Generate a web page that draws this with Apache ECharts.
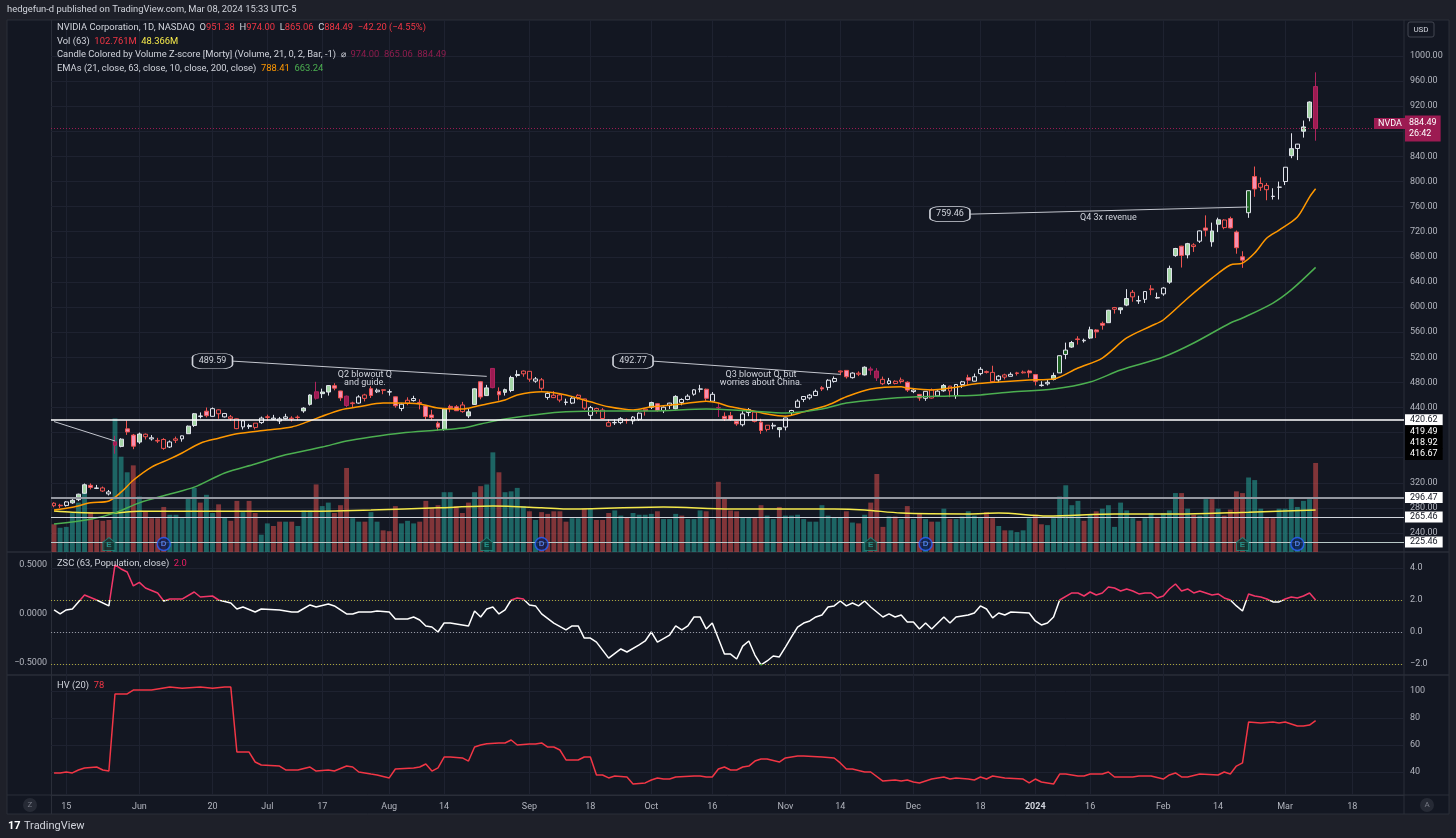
<!DOCTYPE html>
<html lang="en">
<head>
  <meta charset="UTF-8">
  <title>NVDA 1D</title>
  <style>
    html, body { margin: 0; padding: 0; background: #131722; }
    #chart { width: 1456px; height: 838px; }
  </style>
</head>
<body>
  <div id="chart"></div>
  <script src="https://cdn.jsdelivr.net/npm/echarts@6/dist/echarts.min.js"></script>
  <script>
    // trading days shown on the chart (last 14 of March are empty future slots)
    const tradingDays = [
      ['2023-05', [11,12,15,16,17,18,19,22,23,24,25,26,30,31]],
      ['2023-06', [1,2,5,6,7,8,9,12,13,14,15,16,20,21,22,23,26,27,28,29,30]],
      ['2023-07', [3,5,6,7,10,11,12,13,14,17,18,19,20,21,24,25,26,27,28,31]],
      ['2023-08', [1,2,3,4,7,8,9,10,11,14,15,16,17,18,21,22,23,24,25,28,29,30,31]],
      ['2023-09', [1,5,6,7,8,11,12,13,14,15,18,19,20,21,22,25,26,27,28,29]],
      ['2023-10', [2,3,4,5,6,9,10,11,12,13,16,17,18,19,20,23,24,25,26,27,30,31]],
      ['2023-11', [1,2,3,6,7,8,9,10,13,14,15,16,17,20,21,22,24,27,28,29,30]],
      ['2023-12', [1,4,5,6,7,8,11,12,13,14,15,18,19,20,21,22,26,27,28,29]],
      ['2024-01', [2,3,4,5,8,9,10,11,12,16,17,18,19,22,23,24,25,26,29,30,31]],
      ['2024-02', [1,2,5,6,7,8,9,12,13,14,15,16,20,21,22,23,26,27,28,29]],
      ['2024-03', [1,4,5,6,7,8,11,12,13,14,15,18,19,20,21,22,25,26,27,28]]
    ];

    // daily candles [open, high, low, close]
    const candles = [
      // May
      [287.5,289.0,280.9,283.4],[284.2,286.5,279.8,283.4],[283.9,290.7,282.1,289.5],[288.0,294.0,286.4,292.1],
      [293.1,302.6,290.8,301.8],[303.3,318.8,302.5,316.8],[316.0,319.0,309.4,312.6],[311.0,316.6,310.0,311.8],
      [311.8,314.0,305.5,306.9],[302.3,308.5,299.8,305.4],[385.3,394.8,366.3,379.8],[378.0,391.0,376.5,389.5],
      [405.9,419.4,396.3,401.1],[396.0,397.8,373.5,378.3],
      // Jun
      [384.9,400.0,382.0,397.7],[397.4,398.5,389.0,393.3],[389.9,396.0,387.2,391.7],[387.5,391.6,383.4,386.5],
      [389.0,391.1,372.6,374.8],[377.0,387.4,375.6,385.1],[390.0,393.6,383.3,387.7],[390.0,395.2,385.5,394.8],
      [398.2,411.2,397.8,410.2],[411.2,431.2,409.0,430.0],[425.5,432.1,422.5,426.5],[434.1,439.9,424.1,426.9],
      [425.9,440.0,425.4,438.1],[436.2,437.0,422.0,430.0],[425.0,431.3,424.0,430.3],[425.0,428.0,418.5,422.1],
      [422.0,422.5,405.4,406.3],[409.0,419.0,405.0,418.8],[409.5,414.0,405.8,411.2],[415.0,415.1,405.0,408.2],
      [415.9,425.5,413.8,423.0],
      // Jul
      [425.2,428.5,419.0,424.1],[421.3,428.2,420.1,423.0],[418.4,424.9,413.6,421.8],[422.2,429.9,420.8,425.0],
      [423.0,426.0,417.5,421.8],[424.6,427.3,419.6,424.0],[434.5,440.5,431.5,439.0],[445.0,460.9,443.0,459.8],
      [465.0,480.9,452.4,454.7],[462.0,470.0,455.1,464.6],[464.6,475.8,458.9,474.9],[474.7,478.6,467.3,470.8],
      [466.3,466.5,450.5,455.2],[458.0,459.0,440.4,443.1],[447.3,449.1,439.9,446.1],[447.0,459.5,446.0,456.8],
      [460.0,461.8,449.7,454.5],[470.0,473.9,455.1,459.0],[465.0,470.2,463.0,467.5],[468.3,469.0,461.1,467.3],
      // Aug
      [464.6,468.9,458.9,465.1],[457.0,457.5,439.7,442.7],[438.4,447.2,434.1,445.2],[451.5,456.2,443.6,446.8],
      [451.0,458.6,449.4,454.2],[448.0,453.0,437.0,446.6],[442.4,443.3,420.7,425.5],[428.0,436.3,419.8,423.9],
      [415.0,417.7,403.1,408.6],[404.9,437.9,403.1,437.5],[441.7,444.4,432.3,439.4],[441.0,443.8,434.7,434.8],
      [444.0,448.9,431.6,433.4],[426.5,437.5,423.0,433.0],[444.9,470.6,444.2,469.7],[481.0,481.9,453.0,456.7],
      [458.9,476.0,458.5,471.2],[502.2,502.7,470.5,471.6],[465.5,472.0,451.1,460.2],[464.1,470.0,459.0,468.4],
      [467.0,490.5,464.3,487.8],[491.0,499.3,488.0,492.6],[498.0,499.0,489.0,493.6],
      // Sep
      [497.6,498.0,481.0,485.1],[482.0,488.5,479.3,485.5],[484.0,487.0,467.1,470.6],[456.0,465.0,452.5,462.4],
      [459.5,466.0,455.0,455.7],[460.0,461.8,448.3,451.8],[448.0,454.0,443.6,448.7],[447.0,456.4,445.4,454.9],
      [459.5,461.0,452.3,455.8],[453.6,453.9,436.0,439.0],[427.5,442.4,420.0,439.7],[438.3,439.7,430.0,435.2],
      [436.0,439.0,422.2,422.4],[415.8,421.0,409.8,410.2],[415.6,421.0,412.1,416.1],[415.9,424.6,413.4,422.2],
      [420.0,422.5,414.2,419.1],[418.6,426.3,413.2,424.7],[421.2,432.0,418.6,430.9],[437.1,437.2,427.0,435.0],
      // Oct
      [440.3,449.2,437.5,447.8],[446.0,446.6,433.3,435.2],[435.0,441.7,431.1,440.4],[443.0,447.5,437.6,446.9],
      [438.0,459.5,437.0,457.6],[448.0,454.6,443.5,452.7],[452.7,461.1,451.5,458.0],[461.1,469.0,458.8,468.1],
      [469.2,476.1,464.0,469.5],[469.1,470.0,450.6,454.6],[450.0,464.6,449.0,461.0],[440.0,447.5,424.8,439.4],
      [425.9,432.2,418.5,422.0],[427.0,432.9,418.8,421.0],[418.0,419.2,410.8,413.9],[412.5,434.1,409.8,429.8],
      [432.0,439.0,426.1,436.6],[432.6,433.8,416.1,417.8],[416.6,422.0,397.9,403.3],[411.7,412.0,401.8,405.0],
      [410.4,415.7,405.3,411.6],[404.7,408.0,392.3,407.8],
      // Nov
      [408.8,423.5,403.5,423.3],[431.8,436.2,428.1,435.1],[440.2,453.0,439.8,450.1],[452.8,457.9,448.6,457.5],
      [455.2,461.5,452.5,459.6],[459.0,468.6,458.2,465.7],[471.4,474.0,466.2,469.5],[472.0,485.0,467.4,483.4],
      [481.5,489.5,479.5,486.2],[498.0,498.8,491.5,496.6],[499.1,499.3,486.0,488.9],[487.5,496.0,486.1,494.8],
      [494.6,497.5,490.0,493.0],[491.9,505.5,491.0,504.1],[501.4,505.0,491.9,499.4],[498.0,502.7,482.2,487.2],
      [484.8,489.2,475.7,477.8],[478.1,487.1,476.4,482.4],[481.8,483.3,476.8,478.2],[483.8,487.7,478.3,481.4],
      [480.2,481.6,464.7,467.7],
      // Dec
      [465.3,469.7,462.9,467.7],[460.8,461.5,450.6,455.1],[454.6,466.0,450.6,465.7],[468.0,470.2,454.3,455.0],
      [458.4,467.8,456.6,466.0],[466.6,477.4,465.0,475.1],[474.0,474.5,456.4,466.3],[458.8,477.2,453.8,476.6],
      [476.5,482.4,471.2,480.9],[487.5,492.2,475.4,483.5],[481.9,494.0,481.6,488.9],[494.0,504.3,491.2,500.8],
      [497.0,498.9,494.1,496.0],[495.9,506.5,480.0,481.1],[484.0,491.5,480.1,489.9],[491.9,493.8,484.7,488.3],
      [489.7,496.0,489.6,492.8],[495.1,496.8,490.9,494.2],[496.4,498.8,494.1,495.2],[498.1,500.0,487.5,495.2],
      // Jan
      [492.4,492.9,475.1,481.7],[474.9,481.8,473.2,475.7],[477.7,485.0,475.1,480.0],[484.6,495.5,483.1,491.0],
      [495.1,522.8,494.8,522.5],[524.5,543.3,516.9,531.4],[536.2,546.0,534.9,543.5],[549.2,553.5,540.2,548.2],
      [546.2,549.7,543.3,547.1],[550.6,568.7,549.0,563.8],[563.5,564.8,550.6,560.5],[574.0,576.8,564.0,571.1],
      [575.1,595.5,575.0,594.9],[599.2,600.2,589.6,596.5],[595.7,599.1,589.1,598.7],[603.1,628.5,601.4,613.6],
      [623.5,627.2,608.5,616.2],[609.6,618.0,605.0,610.3],[612.3,624.9,606.5,624.7],[629.0,634.9,619.0,627.7],
      [614.4,623.0,613.3,615.3],
      // Feb
      [621.0,631.9,618.0,630.3],[639.7,666.0,637.0,661.6],[682.0,694.3,680.1,693.3],[697.0,697.6,663.0,682.2],
      [683.2,702.3,677.6,701.0],[699.0,701.7,687.9,696.4],[705.0,721.9,702.1,721.3],[726.0,746.1,712.5,722.5],
      [704.0,734.5,696.2,721.3],[732.0,742.4,719.4,739.0],[738.7,739.8,724.0,726.6],[741.0,744.0,725.0,726.1],
      [719.5,721.9,685.0,694.5],[680.1,688.9,662.5,674.7],[750.3,785.8,742.2,785.4],[807.9,823.9,775.7,788.2],
      [797.0,806.5,785.0,790.9],[793.8,797.8,770.2,787.0],[776.2,789.3,771.3,776.6],[790.9,799.9,771.4,791.1],
      // Mar
      [800.0,823.0,794.4,822.8],[841.3,876.9,837.2,852.4],[852.7,860.0,834.2,859.6],[880.2,897.2,870.0,887.0],
      [901.6,927.7,896.0,926.7],[951.38,974.0,865.06,884.49]
    ];

    // daily volume, millions
    const volumes = [
      32,28,29,45,57,69,46,37,36,37, 154,110,92,100,64,47,39,39,52,43,
      43,39,62,74,57,66,45,55,40,36, 59,46,59,45,20,33,30,35,35,35,
      30,48,48,78,53,57,45,54,97,39, 35,35,46,35,25,24,53,33,36,33,
      35,59,51,54,69,69,53,45,57,69, 76,78,115,92,69,70,74,53,47,37,
      46,44,47,47,35,39,39,50,50,37, 37,45,48,42,40,45,43,43,44,47,
      38,38,44,42,38,38,48,47,38,81, 62,48,47,40,40,40,54,42,38,52,
      42,42,43,38,35,35,54,42,40,40, 47,34,33,43,57,90,29,41,41,38,
      53,38,44,38,35,35,50,38,38,41, 47,42,39,46,39,30,25,25,23,25,
      39,43,32,31,39,64,77,54,59,36, 43,47,50,54,29,57,48,39,36,39,
      45,39,45,48,68,68,50,43,42,61, 61,50,42,49,70,68,86,83,50,39,
      39,50,50,62,52,59,61,102.761
    ];

    // indicator lines: [bar index, value]
    const volMA = [[0,47.3],[3,46],[9,45],[14,47],[25,47],[41,47],[52,48.5],[63,51],[72,53],[80,51],[84,49.6],
      [100,52],[111,49.6],[128,49.6],[133,48.5],[139,45],[150,44],[155,45],[163,41.6],[174,44],[185,44],[196,46],[207,48.366]];

    const ema21 = [[0,276.6],[3,281],[6,288],[9,291],[11,305],[13,324],[16,345],[19,358],[21,367.5],[24,383],[27,391],
      [30,398],[35,404],[39,409],[41,415],[44,426],[47,436],[50,441],[54,447],[56,447],[60,445.5],[63,439],[67,437.5],
      [69,441],[71,445.5],[74,452],[76,460],[80,465],[84,460],[88,449],[91,441],[95,436],[98,441],[103,445.5],[107,450],
      [109,447],[111,441],[114,436],[117,429.5],[120,426],[123,433],[127,444],[130,457],[134,469.4],[139,473],[140,471],
      [144,468],[147,471],[151,477.4],[155,480.6],[160,483.7],[164,485.4],[168,502.9],[172,518.8],[176,550.7],[180,569.8],
      [182,579.4],[186,614],[190,646],[193,667],[195,670],[197,686],[199,710],[201,722.7],[204,743.5],[206,775.3],[207,788.41]];

    const ema63 = [[0,254.3],[6,262],[10,272],[14,288],[19,302],[23,313],[28,335.6],[33,350],[38,364.5],[44,377],
      [48,386.6],[52,393],[57,399.3],[63,404],[67,407.3],[70,413.6],[74,421.6],[80,429.6],[84,433],[90,434.4],[98,434.4],
      [107,437.5],[114,434.4],[120,431],[126,437.5],[130,447],[136,453.5],[141,456.7],[147,458.3],[152,460],[157,464.6],
      [164,469.4],[170,480.6],[175,499.7],[182,520.4],[187,542.7],[193,574.6],[195,582.5],[200,606.4],[203,627.3],[207,663.24]];

    const zsc = [[0,1.38],[1,1.13],[2,1.38],[3,1.44],[5,2.31],[7,2.0],[9,1.63],[10,4.19],[11,3.94],[12,3.75],[13,2.88],
      [14,3.1],[15,2.75],[17,2.44],[18,1.94],[19,2.06],[21,2.06],[23,2.5],[24,2.19],[26,2.25],[27,2.0],[29,1.81],[30,1.44],
      [31,1.56],[33,1.25],[34,1.44],[37,1.38],[39,1.25],[40,1.25],[42,1.69],[43,1.56],[45,1.75],[46,1.63],[48,1.13],[49,1.13],
      [50,1.25],[52,1.25],[53,1.31],[55,1.25],[56,0.81],[58,0.81],[59,0.94],[60,0.75],[61,0.38],[62,0.31],[63,0.0],[64,0.56],
      [65,0.56],[67,0.44],[68,0.38],[69,1.31],[70,0.94],[71,1.44],[72,1.56],[73,1.13],[74,1.38],[75,2.0],[76,2.13],[77,2.06],
      [78,1.69],[79,1.63],[80,1.13],[82,0.56],[84,0.13],[85,0.38],[86,0.38],[87,-0.38],[88,-0.38],[89,-0.63],[91,-1.63],
      [93,-1.06],[94,-1.25],[96,-0.81],[97,-0.56],[98,0.0],[99,-0.63],[101,-0.19],[102,0.38],[103,0.13],[104,0.38],[105,0.94],
      [106,0.94],[107,0.19],[108,0.56],[110,-1.38],[111,-1.38],[112,-1.69],[113,-0.88],[114,-0.56],[115,-1.44],[116,-2.06],
      [117,-1.81],[118,-1.5],[119,-1.56],[120,-0.94],[121,-0.31],[122,0.31],[123,0.56],[124,0.69],[125,0.94],[126,1.06],
      [127,1.56],[128,1.63],[129,1.94],[130,1.63],[131,1.81],[132,1.63],[133,1.94],[134,1.56],[136,0.94],[137,1.13],[138,0.94],
      [139,1.06],[140,0.63],[141,0.63],[142,0.19],[143,0.56],[144,0.19],[146,0.94],[147,0.56],[148,0.94],[150,1.06],[151,1.19],
      [152,1.63],[153,1.44],[154,0.88],[155,1.19],[156,1.06],[157,1.25],[160,1.19],[161,0.69],[162,0.44],[163,0.56],[164,0.94],
      [165,2.0],[167,2.44],[168,2.44],[169,2.25],[170,2.5],[171,2.31],[172,2.44],[173,2.81],[174,2.75],[175,2.56],[176,2.69],
      [177,2.56],[178,2.38],[179,2.44],[180,2.44],[181,2.13],[182,2.25],[183,2.69],[184,3.0],[185,2.56],[186,2.69],[187,2.44],
      [188,2.56],[189,2.44],[190,2.31],[191,2.38],[192,2.13],[193,2.0],[194,1.63],[195,1.31],[196,2.38],[197,2.25],[198,2.19],
      [199,2.06],[200,1.88],[201,1.88],[202,2.06],[203,2.19],[204,2.13],[205,2.25],[206,2.44],[207,2.0]];

    const hv = [[0,39.3],[1,39.3],[2,40],[3,39.3],[4,41.5],[5,43],[7,43.7],[8,41.5],[9,40.7],[10,97.8],[12,97.8],[13,100.7],
      [16,100.7],[19,103],[21,102],[24,103],[26,102],[28,103],[29,103],[30,54.8],[32,54.8],[33,47.4],[34,45.2],[37,44.4],
      [38,41.5],[40,41.5],[42,43.7],[43,40.7],[45,41.5],[46,40.7],[48,44.4],[49,43.7],[50,40],[52,38.5],[53,37.8],[55,35.6],
      [56,42.2],[59,43],[60,43.7],[61,45.9],[62,40.7],[63,43],[64,51.1],[65,51.1],[67,50.4],[68,48.1],[69,58.5],[70,60],
      [71,61],[73,61.5],[74,61.5],[75,63.7],[76,60],[78,60.7],[79,60.7],[80,61.5],[81,58.5],[82,58.5],[83,56.3],[84,48.9],
      [86,48.9],[87,51.1],[88,51.1],[89,37.8],[90,37.8],[91,35.6],[92,37],[94,36.3],[95,31.1],[97,31.9],[98,34.1],[99,35.6],
      [100,34.8],[101,34.8],[102,36.3],[105,37],[106,37],[107,36.3],[108,36.3],[109,42.2],[110,43.7],[111,41.5],[112,41.5],
      [113,43.7],[114,44.4],[115,48.1],[116,49.6],[117,49.6],[119,47.4],[120,50.4],[122,51.9],[123,51.9],[126,51.1],[128,50.4],
      [129,46.7],[130,42.2],[131,42.2],[133,40],[134,40],[136,33.3],[138,34.1],[139,33.3],[140,34.1],[141,32.6],[142,31.9],
      [144,34.8],[146,36.3],[147,34.8],[148,35.6],[150,34.8],[151,34.1],[152,36.3],[153,34.8],[154,37],[156,35.6],[159,34.8],
      [160,31.9],[161,34.8],[162,32.6],[164,31.1],[165,38.5],[166,38.5],[168,37],[169,37],[170,38.5],[172,38.5],[173,40],
      [174,36.3],[177,36.3],[178,37],[180,37],[182,34.8],[183,37.8],[184,39.3],[185,36.3],[186,36.3],[188,38.5],[191,37.8],
      [192,40],[193,38.5],[194,44.4],[195,46.7],[196,77],[198,76.3],[200,77],[201,76.3],[202,77],[204,74.1],[205,74.1],
      [206,74.8],[207,78]];

    // horizontal levels drawn on the price pane
    const levels = [420.62, 296.47, 265.46, 225.46];
    const stackedLevels = [419.49, 418.92, 416.67];
    const lastPrice = 884.49;

    // earnings / dividend bar indexes
    const earningsIdx = [9, 71, 134, 195];
    const dividendIdx = [18, 80, 143, 204];

    // axis ticks
    const priceTicks = [240,280,320,360,400,440,480,520,560,600,640,680,720,760,800,840,880,920,960,1000];
    const zscTicks = [-2, 0, 2, 4];
    const zscLeftTicks = [-0.5, 0, 0.5];
    const hvTicks = [40, 60, 80, 100];
    const xTickDates = ['2023-05-15','2023-06-01','2023-06-20','2023-07-03','2023-07-17','2023-08-01','2023-08-14',
      '2023-09-01','2023-09-18','2023-10-02','2023-10-16','2023-11-01','2023-11-14','2023-12-01','2023-12-18',
      '2024-01-02','2024-01-16','2024-02-01','2024-02-14','2024-03-01','2024-03-18'];
    const xTickLabels = ['15','Jun','20','Jul','17','Aug','14','Sep','18','Oct','16','Nov','14','Dec','18',
      '2024','16','Feb','14','Mar','18'];

    const dates = [];
    tradingDays.forEach(([ym, days]) => days.forEach(d => dates.push(ym + '-' + String(d).padStart(2, '0'))));

    const tickMap = {};
    xTickDates.forEach((d, k) => { tickMap[d] = xTickLabels[k]; });
    const isTick = (idx, val) => tickMap[val] !== undefined;

    const FONT = 'Roboto, "Noto Sans", sans-serif';
    const BG = '#131722';
    const GRID = '#1e2230';
    const TXT = '#b2b5be';
    const CLEAR = 'rgba(0,0,0,0)';

    // candle body colour follows the volume z-score (21 bars, bands at 0 and 2)
    function volZ(i) {
      const win = volumes.slice(Math.max(0, i - 20), i + 1);
      const mean = win.reduce((a, b) => a + b, 0) / win.length;
      const sd = Math.sqrt(win.reduce((a, b) => a + (b - mean) * (b - mean), 0) / win.length) || 1;
      return (volumes[i] - mean) / sd;
    }
    function candleStyle(i) {
      const [o, , , c] = candles[i];
      const z = volZ(i);
      let fill, border;
      if (c >= o) {
        border = '#e0e3eb';
        fill = z > 2 ? '#1b5e20' : z > 0 ? '#a5d6a7' : BG;
      } else {
        border = z > 2 ? '#b0245e' : '#ef5350';
        fill = z > 2 ? '#9c1b52' : z > 0 ? '#f48fb1' : BG;
      }
      return { color: fill, color0: fill, borderColor: border, borderColor0: border, borderWidth: 1 };
    }

    const candleData = candles.map((k, i) => ({ value: [k[0], k[3], k[2], k[1]], itemStyle: candleStyle(i) }));
    const volData = volumes.map((v, i) => {
      const prev = i > 0 ? candles[i - 1][3] : candles[i][0];
      const up = candles[i][3] >= prev;
      return { value: v, itemStyle: { color: up ? 'rgba(38,166,154,0.55)' : 'rgba(239,83,80,0.5)' } };
    });

    const boxLabel = (txt, bg, fg) => ({
      show: true, position: 'end', distance: 1, formatter: txt, backgroundColor: bg, color: fg,
      padding: [1, 5], lineHeight: 9, fontSize: 9, fontFamily: FONT
    });

    const levelStyles = [
      { color: '#ffffff', width: 1.5 },
      { color: '#9598a1', width: 2 },
      { color: '#d1d4dc', width: 1 },
      { color: '#b8c7c6', width: 1 }
    ];
    const stackOffsets = [11, 22, 32];

    const priceMarkLines = [
      { yAxis: lastPrice, lineStyle: { color: '#9c1b52', type: [1, 2], width: 1 },
        label: { show: true, position: 'end', distance: 1, formatter: '884.49\n26:42', backgroundColor: '#9c1b52',
          color: '#fff', padding: [2, 4], lineHeight: 11, fontSize: 9, fontFamily: FONT } },
      { yAxis: lastPrice, lineStyle: { color: CLEAR, width: 0.1 },
        label: { show: true, position: 'end', distance: 1, offset: [-31, -5], formatter: 'NVDA', backgroundColor: '#9c1b52',
          color: '#fff', padding: [1, 4], fontSize: 9, fontFamily: FONT } }
    ];
    levels.forEach((v, k) => {
      priceMarkLines.push({ yAxis: v, lineStyle: Object.assign({ type: 'solid' }, levelStyles[k]),
        label: boxLabel(v.toFixed(2), '#ffffff', '#131722') });
    });
    stackedLevels.forEach((v, k) => {
      priceMarkLines.push({ yAxis: v, lineStyle: { color: CLEAR, width: 0.1 },
        label: Object.assign(boxLabel(v.toFixed(2), '#000000', '#ffffff'),
          { offset: [0, stackOffsets[k]], padding: [1, 5], lineHeight: 10 }) });
    });
    // trend / annotation connector lines
    const connectors = [
      [[0, 417.5], [10, 386.6]],
      [[29, 514], [71, 489.59]],
      [[98, 514], [129, 492.77]],
      [[150, 748], [196, 759.46]]
    ];
    connectors.forEach(([a, b]) => {
      const ls = { color: '#c3c6ce', width: 1, type: 'solid' };
      priceMarkLines.push([
        { coord: [dates[a[0]], a[1]], lineStyle: ls, label: { show: false } },
        { coord: [dates[b[0]], b[1]], lineStyle: ls, label: { show: false } }
      ]);
    });

    const noteBoxes = [[26, 514, '489.59'], [95, 514, '492.77'], [147, 748, '759.46']];
    const noteTexts = [[51, 485, 'Q2 blowout Q\nand guide.'], [116, 485, 'Q3 blowout Q, but\nworries about China.'],
      [173, 742, 'Q4 3x revenue']];
    const pricePoints = [];
    noteBoxes.forEach(([i, p, t]) => pricePoints.push({
      coord: [dates[i], p], symbol: 'roundRect', symbolSize: [40, 15],
      itemStyle: { color: BG, borderColor: '#d1d4dc', borderWidth: 1 },
      label: { show: true, formatter: t, color: '#d1d4dc', fontSize: 9, fontFamily: FONT }
    }));
    noteTexts.forEach(([i, p, t]) => pricePoints.push({
      coord: [dates[i], p], symbol: 'circle', symbolSize: 1, itemStyle: { color: CLEAR },
      label: { show: true, formatter: t, color: '#d1d4dc', fontSize: 9, lineHeight: 8, fontFamily: FONT }
    }));

    const xAxes = [0, 1, 2, 3].map(k => ({
      type: 'category', gridIndex: k, data: dates, boundaryGap: true,
      axisLine: { show: k === 3, lineStyle: { color: '#2a2e39' } },
      axisTick: { show: false },
      axisLabel: k === 3 ? {
        interval: isTick, color: TXT, fontSize: 9, fontFamily: FONT, margin: 7,
        formatter: v => v === '2024-01-02' ? '{b|2024}' : (tickMap[v] || ''),
        rich: { b: { fontWeight: 'bold', color: '#d1d4dc', fontSize: 9, fontFamily: FONT } }
      } : { show: false },
      splitLine: { show: k !== 1, interval: isTick, alignWithLabel: true, lineStyle: { color: GRID, width: 1 } }
    }));

    const valAxis = (grid, pos, min, max, ticks, fmt, split) => ({
      type: 'value', gridIndex: grid, position: pos, min: min, max: max,
      axisLine: { show: false },
      axisTick: { show: false, customValues: ticks },
      axisLabel: { customValues: ticks, color: TXT, fontSize: 9, fontFamily: FONT, margin: pos === 'right' ? 6 : 4, formatter: fmt },
      splitLine: { show: split, customValues: ticks, lineStyle: { color: GRID } }
    });

    // legend lines: css font string, each coloured run a rich token, drawn above the grid lines
    const LFONT = '9.4px Roboto';
    const rs = c => ({ fill: c, font: LFONT });
    const legendRich = {
      w: rs('#d1d4dc'), r: rs('#f23645'), y: rs('#f5e94b'), m: rs('#8e1c4d'),
      o: rs('#ff9800'), g: rs('#4caf50'), p: rs('#e91e63')
    };
    const legendText = (x, y, text) => ({ type: 'text', silent: true, z: 100, x: x, y: y,
      style: { text: text, fill: '#d1d4dc', font: LFONT, verticalAlign: 'middle', rich: legendRich } });

    const option = {
      backgroundColor: BG,
      animation: false,
      grid: [
        { left: 51, right: 52, top: 20, height: 532 },
        { left: 51, right: 52, top: 20, height: 532 },
        { left: 51, right: 52, top: 552, height: 123 },
        { left: 51, right: 52, top: 675, height: 120 }
      ],
      xAxis: xAxes,
      yAxis: [
        valAxis(0, 'right', 209.7, 1057.4, priceTicks, v => v.toFixed(2), true),
        { type: 'value', gridIndex: 1, min: 0, max: 614, show: false, splitLine: { show: false } },
        valAxis(2, 'right', -2.6875, 5, zscTicks, v => v.toFixed(1).replace('-', '\u2212'), true),
        valAxis(2, 'left', -0.6224, 0.6327, zscLeftTicks, v => v.toFixed(4).replace('-', '\u2212'), false),
        valAxis(3, 'right', 22.96, 111.85, hvTicks, v => String(v), true)
      ],
      visualMap: [{
        type: 'piecewise', show: false, seriesIndex: 7, dimension: 1,
        pieces: [{ lt: -2, color: '#4caf50' }, { gte: -2, lte: 2, color: '#ffffff' }, { gt: 2, color: '#f23668' }]
      }],
      series: [
        { type: 'bar', name: 'Vol', xAxisIndex: 1, yAxisIndex: 1, data: volData, barWidth: '80%' },
        { type: 'line', name: 'Vol MA', xAxisIndex: 1, yAxisIndex: 1, data: volMA, symbol: 'none', smooth: 0.3,
          lineStyle: { color: '#f5e94b', width: 1.5 } },
        { type: 'scatter', name: 'E', xAxisIndex: 1, yAxisIndex: 1, z: 6,
          data: earningsIdx.map(i => [dates[i], 9.2]),
          symbol: 'path://M5,0 L10,4 L10,11 L0,11 L0,4 Z', symbolSize: [12, 13],
          itemStyle: { color: '#0d3431', borderColor: '#1f8a7e', borderWidth: 1 },
          label: { show: true, position: 'inside', formatter: 'E', color: '#26a69a', fontSize: 8, fontWeight: 'bold', offset: [0, 1] } },
        { type: 'scatter', name: 'D', xAxisIndex: 1, yAxisIndex: 1, z: 6,
          data: dividendIdx.map(i => [dates[i], 9.2]),
          symbol: 'circle', symbolSize: 13,
          itemStyle: { color: '#0f1f52', borderColor: '#2962ff', borderWidth: 1.5 },
          label: { show: true, position: 'inside', formatter: 'D', color: '#5b8cff', fontSize: 8, fontWeight: 'bold' } },
        { type: 'line', name: 'EMA 21', xAxisIndex: 0, yAxisIndex: 0, data: ema21, symbol: 'none', smooth: 0.3,
          lineStyle: { color: '#ff9800', width: 1.5 } },
        { type: 'line', name: 'EMA 63', xAxisIndex: 0, yAxisIndex: 0, data: ema63, symbol: 'none', smooth: 0.3,
          lineStyle: { color: '#4caf50', width: 1.5 } },
        { type: 'candlestick', name: 'NVDA', xAxisIndex: 0, yAxisIndex: 0, data: candleData, barWidth: '72%',
          markLine: { symbol: ['none', 'none'], silent: true, animation: false, label: { show: false }, data: priceMarkLines },
          markPoint: { silent: true, animation: false, data: pricePoints } },
        { type: 'line', name: 'ZSC', xAxisIndex: 2, yAxisIndex: 2, data: zsc, symbol: 'none', lineStyle: { width: 1.5 },
          markLine: { symbol: ['none', 'none'], silent: true, label: { show: false }, data: [
            { yAxis: 2, lineStyle: { color: '#aaa53a', type: [1, 2], width: 1 } },
            { yAxis: 0, lineStyle: { color: '#9598a1', type: [1, 2], width: 1 } },
            { yAxis: -2, lineStyle: { color: '#aaa53a', type: [1, 2], width: 1 } }
          ] } },
        { type: 'line', name: 'HV', xAxisIndex: 3, yAxisIndex: 4, data: hv, symbol: 'none',
          lineStyle: { color: '#f23645', width: 1.5 } }
      ],
      graphic: [
        // outer chrome
        { type: 'rect', silent: true, shape: { x: 0, y: 0, width: 1456, height: 20 }, style: { fill: '#1e2029' } },
        { type: 'rect', silent: true, shape: { x: 0, y: 814, width: 1456, height: 24 }, style: { fill: '#1e2029' } },
        { type: 'rect', silent: true, shape: { x: 0, y: 0, width: 7, height: 838 }, style: { fill: '#1e2029' } },
        { type: 'rect', silent: true, shape: { x: 1449, y: 0, width: 7, height: 838 }, style: { fill: '#1e2029' } },
        { type: 'rect', silent: true, shape: { x: 7, y: 20, width: 1442, height: 794 }, style: { fill: 'none', stroke: '#2a2e39', lineWidth: 1 } },
        { type: 'line', silent: true, shape: { x1: 7, y1: 552, x2: 1449, y2: 552 }, style: { stroke: '#2a2e39', lineWidth: 1.5 } },
        { type: 'line', silent: true, shape: { x1: 7, y1: 675, x2: 1449, y2: 675 }, style: { stroke: '#2a2e39', lineWidth: 1.5 } },
        { type: 'line', silent: true, shape: { x1: 7, y1: 795, x2: 1449, y2: 795 }, style: { stroke: '#2a2e39', lineWidth: 1 } },
        { type: 'line', silent: true, shape: { x1: 1404, y1: 20, x2: 1404, y2: 814 }, style: { stroke: '#2a2e39', lineWidth: 1 } },
        { type: 'line', silent: true, shape: { x1: 51.5, y1: 20, x2: 51.5, y2: 814 }, style: { stroke: '#2a2e39', lineWidth: 1 } },
        // header and pane legends
        legendText(7, 10, '{w|hedgefun-d published on TradingView.com, Mar 08, 2024 15:33 UTC-5}'),
        legendText(57, 28, '{w|NVIDIA Corporation, 1D, NASDAQ  O}{r|951.38}{w|  H}{r|974.00}{w|  L}{r|865.06}{w|  C}{r|884.49}{w|  }{r|\u221242.20 (\u22124.55%)}'),
        legendText(57, 42, '{w|Vol (63)  }{r|102.761M}{w|  }{y|48.366M}'),
        legendText(57, 55, '{w|Candle Colored by Volume Z-score [Morty] (Volume, 21, 0, 2, Bar, -1)  \u2300  }{m|974.00  865.06  884.49}'),
        legendText(57, 69, '{w|EMAs (21, close, 63, close, 10, close, 200, close)  }{o|788.41}{w|  }{g|663.24}'),
        legendText(57, 564, '{w|ZSC (63, Population, close)  }{p|2.0}'),
        legendText(57, 686, '{w|HV (20)  }{r|78}'),
        // USD button
        { type: 'rect', silent: true, z: 100, shape: { x: 1408, y: 22, width: 26, height: 15, r: 2 }, style: { fill: BG, stroke: '#434651' } },
        { type: 'text', silent: true, z: 101, x: 1421, y: 29.5, style: { text: 'USD', fill: '#d1d4dc', font: '8px Roboto',
          align: 'center', verticalAlign: 'middle' } },
        // Z / A buttons
        { type: 'circle', silent: true, z: 100, shape: { cx: 30, cy: 805, r: 7 }, style: { fill: '#262a35' } },
        { type: 'text', silent: true, z: 101, x: 30, y: 805, style: { text: 'Z', fill: '#787b86', font: '8px Roboto', align: 'center', verticalAlign: 'middle' } },
        { type: 'circle', silent: true, z: 100, shape: { cx: 1427, cy: 805, r: 7 }, style: { fill: '#262a35' } },
        { type: 'text', silent: true, z: 101, x: 1427, y: 805, style: { text: 'A', fill: '#787b86', font: '8px Roboto', align: 'center', verticalAlign: 'middle' } },
        // footer logo
        { type: 'text', silent: true, z: 100, x: 8, y: 826, style: { text: '{l|17} {t|TradingView}', verticalAlign: 'middle',
          rich: { l: { fill: '#ffffff', font: 'bold 11px Roboto' }, t: { fill: '#d1d4dc', font: '11px Roboto' } } } }
      ]
    };

    const myChart = echarts.init(document.getElementById('chart'));
    myChart.setOption(option);
  </script>
</body>
</html>
